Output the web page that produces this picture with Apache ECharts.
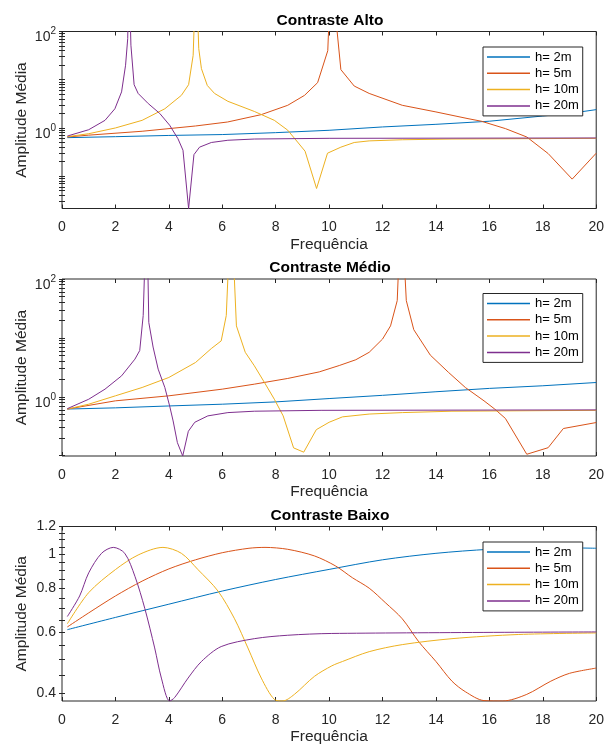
<!DOCTYPE html>
<html><head><meta charset="utf-8">
<script src="https://cdn.jsdelivr.net/npm/echarts@6/dist/echarts.min.js"></script>
<style>html,body{margin:0;padding:0;background:#fff}#c{width:607px;height:746px}</style>
</head><body><div id="c"></div>
<script>
// ---------- data ----------
const seriesNames = ['h= 2m', 'h= 5m', 'h= 10m', 'h= 20m'];
const titles = ['Contraste Alto', 'Contraste Médio', 'Contraste Baixo'];
const xTickValues = [0, 2, 4, 6, 8, 10, 12, 14, 16, 18, 20];

// Contraste Alto  [frequência, amplitude]
const altoH2 = [[0.2,0.63],[2,0.66],[4,0.70],[6,0.73],[8,0.80],[10,0.895],[12,1.05],[14,1.19],[16,1.38],[18,1.77],[19,2.0],[20,2.4]];
const altoH5 = [[0.2,0.65],[1,0.71],[3,0.855],[5,1.1],[6.2,1.33],[7.46,1.89],[8.45,2.95],[9.08,4.75],[9.57,8.7],[9.95,40],[10.07,2000],[10.44,16.2],[10.94,7.4],[11.5,5.2],[12.74,2.95],[14,2.15],[15.2,1.56],[15.7,1.38],[16.6,0.97],[17.4,0.65],[18.2,0.295],[19.1,0.087],[20,0.30]];
const altoH10 = [[0.2,0.66],[1,0.76],[2,1.0],[3,1.44],[3.85,2.5],[4.47,4.75],[4.74,7.9],[4.91,32],[5.02,2000],[5.12,44],[5.22,17],[5.44,7.6],[5.71,5.2],[6.21,3.57],[7.2,2.2],[7.95,1.44],[8.45,0.9],[8.82,0.51],[9.1,0.33],[9.53,0.0556],[9.94,0.30],[10.44,0.40],[10.94,0.50],[11.5,0.54],[12.74,0.57],[14.6,0.59],[20,0.61]];
const altoH20 = [[0.2,0.68],[1,0.92],[1.61,1.44],[1.98,2.5],[2.23,5.6],[2.38,20],[2.46,71],[2.51,2000],[2.58,52],[2.70,7.9],[2.85,5.2],[3.23,3.2],[3.66,2.0],[4.03,1.14],[4.34,0.60],[4.53,0.345],[4.74,0.0214],[4.94,0.28],[5.15,0.40],[5.59,0.50],[6.21,0.556],[7.2,0.59],[10,0.61],[20,0.62]];

// Contraste Médio
const medioH2 = [[0.2,0.62],[2,0.65],[4,0.70],[6,0.75],[8,0.82],[10,0.935],[12,1.06],[14,1.22],[16,1.39],[18,1.54],[20,1.75]];
const medioH5 = [[0.2,0.62],[2,0.855],[4,1.04],[6,1.35],[7.2,1.64],[8.45,2.05],[9.63,2.65],[10.38,3.4],[11,4.26],[11.5,5.7],[12,9.55],[12.3,16],[12.55,43],[12.7,2000],[12.89,43],[13.17,13.8],[13.79,5.1],[14.47,2.6],[15.1,1.44],[15.8,0.855],[16.2,0.62],[16.6,0.43],[17.4,0.106],[18.2,0.137],[18.77,0.29],[20,0.366]];
const medioH10 = [[0.2,0.62],[1,0.75],[2,1.04],[3,1.44],[4,2.13],[5,3.83],[5.59,6.6],[5.96,8.9],[6.15,24],[6.33,2000],[6.53,16],[6.86,5.7],[7.2,3.37],[7.58,1.75],[7.95,0.91],[8.28,0.475],[8.67,0.136],[9.05,0.115],[9.52,0.277],[10.0,0.37],[10.5,0.457],[11.5,0.51],[12.74,0.54],[14.6,0.57],[20,0.59]];
const medioH20 = [[0.2,0.63],[1,0.91],[1.61,1.35],[2.23,2.27],[2.73,4.36],[2.91,6.1],[3.04,24],[3.17,2000],[3.25,18.3],[3.41,7.0],[3.6,2.95],[3.85,1.44],[4.03,0.70],[4.16,0.39],[4.32,0.167],[4.52,0.099],[4.73,0.26],[4.97,0.37],[5.46,0.475],[6.21,0.54],[7.2,0.57],[9.7,0.59],[20,0.60]];

// Contraste Baixo
const baixoH2 = [[0.2,0.609],[2,0.66],[4,0.72],[6,0.785],[8,0.847],[10,0.905],[12,0.964],[14,1.006],[16,1.033],[18,1.045],[20,1.04]];
const baixoH5 = [[0.2,0.62],[1,0.68],[2,0.76],[3,0.838],[4,0.908],[5,0.964],[6,1.01],[7,1.04],[7.6,1.046],[8.45,1.033],[9.45,0.989],[10.25,0.925],[10.87,0.857],[11.5,0.80],[12.1,0.728],[12.74,0.654],[13.36,0.562],[14,0.494],[14.6,0.434],[15.1,0.405],[15.8,0.382],[16.5,0.381],[17.4,0.398],[18.3,0.434],[19,0.457],[20,0.473]];
const baixoH10 = [[0.2,0.633],[1,0.777],[2,0.904],[2.85,0.995],[3.78,1.046],[4.47,1.006],[5.09,0.904],[5.84,0.785],[6.46,0.654],[6.96,0.54],[7.46,0.443],[7.95,0.385],[8.26,0.381],[8.7,0.398],[9.45,0.448],[10.1,0.48],[10.5,0.494],[11.5,0.527],[12.74,0.552],[14.6,0.574],[17.1,0.59],[20,0.596]];
const baixoH20 = [[0.2,0.664],[0.66,0.76],[1,0.885],[1.48,1.006],[1.92,1.046],[2.35,1.006],[2.73,0.865],[3.1,0.70],[3.47,0.54],[3.72,0.443],[4.03,0.381],[4.22,0.39],[4.72,0.443],[5.22,0.494],[5.96,0.545],[7.2,0.574],[8.45,0.587],[10.1,0.594],[20,0.60]];

// axis ranges and tick labels
const yMin = [0.0214, 0.099, 0.381];
const yMax = [100, 100, 1.2];
const yLabelsLogPanels = [1, 100];
const yLabelsBaixo = [0.4, 0.6, 0.8, 1, 1.2];

// ---------- layout ----------
const colors = ['#0072BD', '#D95319', '#EDB120', '#7E2F8E'];
const FONT = '"Liberation Sans", Arial, Helvetica, sans-serif';
const gridTop = [31.5, 279, 526.5];
const gridH = 177;
const smoothPanel = [false, false, 0.3];
const panelData = [[altoH2, altoH5, altoH10, altoH20], [medioH2, medioH5, medioH10, medioH20], [baixoH2, baixoH5, baixoH10, baixoH20]];

function decadeTicks(lo, hi) {
  const out = [];
  for (let e = -3; e <= 3; e++) for (let m = 1; m <= 9; m++) {
    const v = +(m * Math.pow(10, e)).toPrecision(6);
    if (v >= lo * 0.999 && v <= hi * 1.001) out.push(v);
  }
  return out;
}
function linTicks(lo, hi, step) {
  const out = [];
  for (let v = 0.4; v <= hi + 1e-9; v += step) { const r = +v.toFixed(2); if (r >= lo) out.push(r); }
  return out;
}

const grids = [], xAxes = [], yAxes = [], series = [], legends = [], graphics = [];
const tickColor = '#262626';
for (let p = 0; p < 3; p++) {
  grids.push({left: 62, width: 536, top: gridTop[p], height: gridH, show: true, borderColor: tickColor, borderWidth: 1, backgroundColor: '#fff'});
  const xBase = {type: 'value', gridIndex: p, min: 0, max: 20, interval: 2, splitLine: {show: false}, axisLine: {show: false}};
  xAxes.push(Object.assign({}, xBase, {
    position: 'bottom',
    axisTick: {inside: true, length: 4, lineStyle: {color: tickColor}},
    axisLabel: {margin: 12, fontSize: 14, color: tickColor, fontFamily: FONT},
    name: 'Frequência', nameLocation: 'middle', nameGap: 28, nameMoveOverlap: false,
    nameTextStyle: {fontSize: 15.5, color: tickColor, fontFamily: FONT}
  }));
  xAxes.push(Object.assign({}, xBase, {
    position: 'top', axisTick: {inside: true, length: 4, lineStyle: {color: tickColor}}, axisLabel: {show: false}
  }));
  const isLin = p === 2;
  const ticks = isLin ? linTicks(yMin[p], yMax[p], 0.05) : decadeTicks(yMin[p], yMax[p]);
  const labels = isLin ? yLabelsBaixo : yLabelsLogPanels;
  const fmt = isLin ? (v => String(+(+v).toFixed(2))) : (v => '{b|10}{s|' + Math.round(Math.log10(v)) + '}');
  const yBase = {type: 'log', logBase: 10, gridIndex: p, min: yMin[p], max: yMax[p], splitLine: {show: false}, axisLine: {show: false}};
  yAxes.push(Object.assign({}, yBase, {
    position: 'left',
    axisTick: {inside: true, length: 3, customValues: ticks, lineStyle: {color: tickColor}},
    axisLabel: {customValues: labels, formatter: fmt, margin: 6, fontSize: 14, color: tickColor, fontFamily: FONT,
      padding: isLin ? 0 : [8, 0, 0, 0],
      rich: {b: {fontSize: 14, color: tickColor, fontFamily: FONT, lineHeight: 18, verticalAlign: 'bottom'},
             s: {fontSize: 10, color: tickColor, fontFamily: FONT, lineHeight: 18, verticalAlign: 'top'}}},
    name: 'Amplitude Média', nameLocation: 'middle', nameGap: 32, nameMoveOverlap: false,
    nameTextStyle: {fontSize: 15.5, color: tickColor, fontFamily: FONT}
  }));
  yAxes.push(Object.assign({}, yBase, {
    position: 'right',
    axisTick: {inside: true, length: 3, customValues: ticks, lineStyle: {color: tickColor}},
    axisLabel: {show: false}
  }));
  for (let s = 0; s < 4; s++) {
    series.push({type: 'line', name: seriesNames[s], xAxisIndex: p * 2, yAxisIndex: p * 2,
      data: panelData[p][s], showSymbol: false, symbol: 'none', clip: true, smooth: smoothPanel[p],
      lineStyle: {width: 1, color: colors[s]}, itemStyle: {color: colors[s]}, z: 2});
  }
  legends.push({orient: 'vertical', left: 483, top: gridTop[p] + [15.5, 14.5, 15.5][p], data: seriesNames,
    icon: 'rect', itemWidth: 43, itemHeight: 1.5, itemGap: 2.3, padding: [3, 4, 3, 4],
    backgroundColor: '#fff', borderColor: tickColor, borderWidth: 1, selectedMode: false, z: 5,
    textStyle: {fontSize: 13, color: '#000', fontFamily: FONT, lineHeight: 14}});
  graphics.push({type: 'text', x: 330, y: gridTop[p] - 11, z: 10,
    style: {text: titles[p], textAlign: 'center', textVerticalAlign: 'middle', fill: '#000',
      font: 'bold 15.5px ' + FONT}});
}

const chart = echarts.init(document.getElementById('c'), null, {renderer: 'canvas'});
chart.setOption({
  animation: false, backgroundColor: '#fff', color: colors,
  grid: grids, xAxis: xAxes, yAxis: yAxes, series: series, legend: legends, graphic: graphics
});
</script></body></html>
